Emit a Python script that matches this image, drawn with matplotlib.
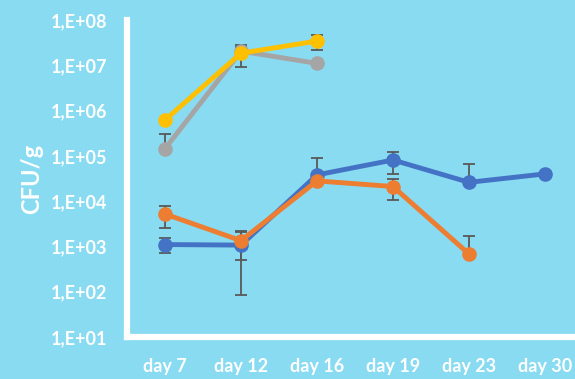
import numpy as np
import matplotlib.pyplot as plt
from matplotlib.ticker import FixedLocator, FuncFormatter, NullLocator

# Data (CFU/g, error bars are +/- sd in linear units)
days = ['day 7', 'day 12', 'day 16', 'day 19', 'day 23', 'day 30']

blue = [1.1e3, 1.07e3, 3.8e4, 8.1e4, 2.6e4, 4.0e4]
blue_err = [4.0e2, 9.85e2, 5.3e4, 4.2e4, 3.9e4, 0]

orange = [5.2e3, 1.34e3, 2.8e4, 2.1e4, 6.8e2]
orange_err = [2.6e3, 8.5e2, 0, 1.05e4, 9.8e2]

gray = [1.44e5, 2.05e7, 1.1e7]
gray_err = [1.55e5, 5.0e6, 0]

yellow = [6.2e5, 1.85e7, 3.43e7]
yellow_err = [0, 9.4e6, 1.3e7]

bg = '#88dbf1'
plt.rcParams['font.family'] = ['Lato', 'DejaVu Sans']

fig = plt.figure(figsize=(5.75, 3.79), dpi=100, facecolor=bg)
ax = fig.add_axes([127 / 575, 42 / 379, 456 / 575, 317 / 379])
ax.set_facecolor(bg)


def draw(vals, err, color):
    x = np.arange(len(vals))
    v = np.array(vals)
    e = np.array(err)
    # Excel leaves out the lower bar when it would go below zero
    lo = np.where(e >= v, 0, e)
    ax.errorbar(x, v, yerr=[lo, e], fmt='none', ecolor='#595959',
                elinewidth=1.3, capsize=4, capthick=1.3, zorder=2)
    ax.plot(x, v, color=color, lw=3.5, marker='o', ms=9.5, zorder=3)


draw(blue, blue_err, '#4472c4')
draw(orange, orange_err, '#ed7d31')
draw(gray, gray_err, '#a5a5a5')
draw(yellow, yellow_err, '#ffc000')

ax.set_yscale('log')
ax.set_ylim(1e1, 1e8)
ax.set_xlim(-0.5, 5.5)
ax.yaxis.set_major_locator(FixedLocator([10.0 ** k for k in range(1, 9)]))
ax.yaxis.set_minor_locator(NullLocator())
ax.yaxis.set_major_formatter(FuncFormatter(lambda v, p: '1,E+%02d' % round(np.log10(v))))
ax.set_xticks(range(len(days)))
ax.set_xticklabels(days)

for s in ['top', 'right']:
    ax.spines[s].set_visible(False)
for s in ['left', 'bottom']:
    ax.spines[s].set_color('white')
    ax.spines[s].set_linewidth(4.5)

ax.tick_params(axis='both', length=0, colors='white', labelsize=13)
ax.tick_params(axis='y', pad=14)
ax.tick_params(axis='x', pad=15)
for lab in ax.get_xticklabels() + ax.get_yticklabels():
    lab.set_fontweight('bold')

ax.set_ylabel('CFU/g', color='white', fontsize=17, fontweight='bold', labelpad=6)

fig.savefig('out.png', dpi=100, facecolor=bg)
